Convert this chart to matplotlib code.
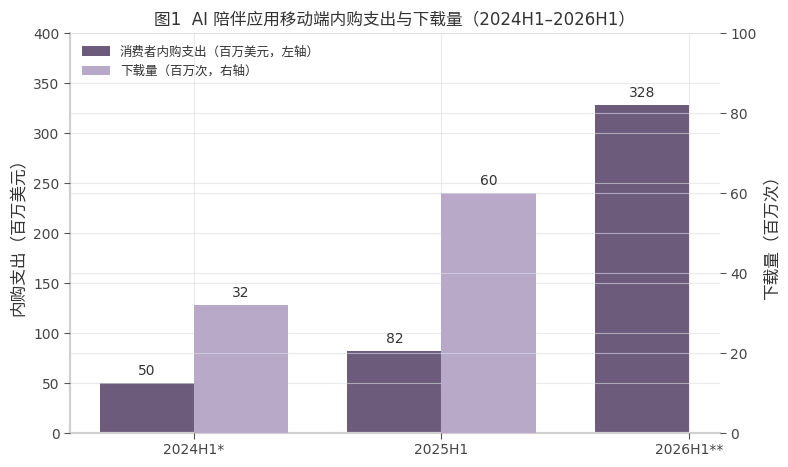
import numpy as np
import matplotlib
matplotlib.use("Agg")
import matplotlib.pyplot as plt

plt.rcParams['font.family'] = ['DejaVu Sans', 'Noto Sans CJK SC']

categories = ['2024H1*', '2025H1', '2026H1**']
spend = [50, 82, 328]            # 百万美元, left axis
downloads = [32, 60, np.nan]     # 百万次, right axis

c_spend = '#6c5b7b'
c_down = '#b8a9c9'
grid_c = '#dddddd'
spine_c = '#d0d0d0'
txt_c = '#444444'

fig = plt.figure(figsize=(7.88, 4.67), dpi=100)
ax = fig.add_axes([0.0888, 0.0728, 0.8249, 0.8565])
ax2 = ax.twinx()

x = np.arange(len(categories))
w = 0.38
b1 = ax.bar(x, spend, width=-w, align='edge', color=c_spend,
            label='消费者内购支出（百万美元，左轴）')
b2 = ax2.bar(x, downloads, width=w, align='edge', color=c_down,
             label='下载量（百万次，右轴）')

for xi, v in zip(x, spend):
    ax.text(xi - w / 2, v + 5, f'{v}', ha='center', va='bottom', fontsize=10, color='#333333')
for xi, v in zip(x, downloads):
    if not np.isnan(v):
        ax2.text(xi + w / 2, v + 1.25, f'{int(v)}', ha='center', va='bottom', fontsize=10, color='#333333')

ax.set_xlim(-0.5, 2.125)
ax.set_ylim(0, 400)
ax2.set_ylim(0, 100)
ax.set_yticks(np.arange(0, 401, 50))
ax2.set_yticks(np.arange(0, 101, 20))
ax.set_xticks(x)
ax.set_xticklabels(categories)

# grid on top of the bars, like the original
ax.set_axisbelow(False)
ax2.set_axisbelow(False)
ax.grid(True, axis='both', color=grid_c, alpha=0.6, linewidth=0.8)
ax2.grid(True, axis='y', color=grid_c, alpha=0.6, linewidth=0.8)

for a in (ax, ax2):
    for s in ('top', 'right'):
        a.spines[s].set_visible(False)
    a.tick_params(colors='#555555', labelcolor=txt_c, labelsize=10, length=4)
ax2.spines['left'].set_visible(False)
ax2.spines['bottom'].set_visible(False)
ax.spines['left'].set_color(spine_c)
ax.spines['bottom'].set_color(spine_c)
ax.spines['left'].set_linewidth(1.6)
ax.spines['bottom'].set_linewidth(1.6)

ax.set_ylabel('内购支出（百万美元）', fontsize=12, color='#333333')
ax2.set_ylabel('下载量（百万次）', fontsize=12, color='#333333')
ax.set_title('图1  AI 陪伴应用移动端内购支出与下载量（2024H1–2026H1）',
             fontsize=12, color='#333333', pad=6)

ax.legend([b1, b2], [b1.get_label(), b2.get_label()], loc='upper left',
          frameon=False, fontsize=9, handlelength=2.2, handleheight=0.8,
          labelcolor='#333333', borderaxespad=0.6)

fig.savefig('out.png', dpi=100)
